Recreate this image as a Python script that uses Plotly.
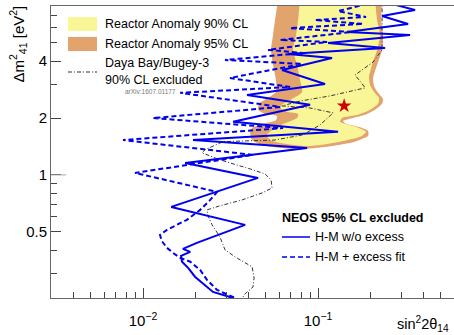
import math
import plotly.graph_objects as go

# ---------------- data ----------------
# Reactor anomaly 95% CL contour (sin^2 2theta_14, dm^2_41 [eV^2])
ra95_x = [0.0591, 0.0568, 0.0553, 0.0539, 0.0553, 0.0575, 0.0575, 0.0518, 0.0460, 0.0454,
          0.0498, 0.0583, 0.0575, 0.0479, 0.0420, 0.0409, 0.0420, 0.0479, 0.0607, 0.0789,
          0.0961, 0.1171, 0.1627, 0.1931, 0.1931, 0.1738, 0.1427, 0.1389, 0.1693, 0.1905,
          0.2117, 0.2321, 0.2351, 0.2202, 0.2089, 0.2062, 0.2173, 0.2321, 0.2351, 0.2291, 0.2321]
ra95_y = [8.5, 6.61, 5.51, 4.59, 3.82, 3.18, 2.75, 2.56, 2.38, 2.21,
          2.10, 2.05, 1.95, 1.86, 1.77, 1.67, 1.53, 1.44, 1.39, 1.37,
          1.39, 1.42, 1.50, 1.61, 1.71, 1.79, 1.88, 1.93, 2.03, 2.10,
          2.21, 2.38, 2.52, 2.72, 2.96, 3.26, 3.82, 4.59, 5.51, 6.61, 8.5]

# Reactor anomaly 90% CL contour
ra90_x = [0.0789, 0.0769, 0.0749, 0.0720, 0.0759, 0.0789, 0.0810, 0.0692, 0.0623, 0.0615,
          0.0674, 0.0769, 0.0759, 0.0631, 0.0546, 0.0511, 0.0532, 0.0648, 0.0843, 0.1027,
          0.1335, 0.1738, 0.1880, 0.1671, 0.1335, 0.1371, 0.1693, 0.1982, 0.2202, 0.2231,
          0.2089, 0.1982, 0.1956, 0.2035, 0.2173, 0.2261, 0.2173, 0.2117]
ra90_y = [8.5, 6.61, 5.51, 4.59, 3.82, 3.18, 2.75, 2.49, 2.35, 2.24,
          2.15, 2.10, 2.00, 1.86, 1.73, 1.63, 1.53, 1.46, 1.42, 1.44,
          1.50, 1.59, 1.69, 1.79, 1.91, 2.00, 2.08, 2.21, 2.38, 2.56,
          2.75, 2.99, 3.30, 3.82, 4.59, 5.51, 6.61, 8.5]

# Daya Bay / Bugey-3 90% CL exclusion
db_x = [0.2321, 0.2321, 0.2062, 0.1627, 0.1860, 0.1171, 0.0789, 0.0623, 0.0900, 0.1220,
        0.1027, 0.0820, 0.0568, 0.0409, 0.0287, 0.0226, 0.0217, 0.0258, 0.0302, 0.0409,
        0.0498, 0.0539, 0.0546, 0.0479, 0.0368, 0.0275, 0.0232, 0.0235, 0.0248, 0.0275,
        0.0294, 0.0336, 0.0420, 0.0431, 0.0425, 0.0383, 0.0349]
db_y = [8.5, 4.59, 3.96, 3.38, 2.89, 2.62, 2.46, 2.32, 2.26, 2.13,
        1.84, 1.63, 1.53, 1.51, 1.50, 1.36, 1.31, 1.23, 1.17, 1.076,
        1.012, 0.941, 0.853, 0.803, 0.737, 0.686, 0.653, 0.607, 0.544, 0.470,
        0.401, 0.368, 0.326, 0.285, 0.255, 0.235, 0.205]

# NEOS 95% CL excluded, H-M w/o excess (solid)
neos_wo_x = [0.2415, 0.3583, 0.2321, 0.3268, 0.1464, 0.3354, 0.1141, 0.2415, 0.0674, 0.1202,
             0.0623, 0.1096, 0.0393, 0.0900, 0.0327, 0.1301, 0.0193, 0.0865, 0.0174, 0.0454,
             0.0145, 0.0383, 0.0203, 0.0169, 0.0186, 0.0165, 0.0167, 0.0181, 0.0198, 0.0251,
             0.0327, 0.0358]
neos_wo_y = [8.23, 7.46, 6.94, 6.30, 5.71, 5.51, 4.99, 4.70, 4.37, 4.16,
             3.59, 3.03, 2.65, 2.35, 1.91, 1.69, 1.53, 1.39, 1.157, 0.964,
             0.677, 0.544, 0.437, 0.406, 0.391, 0.373, 0.347, 0.322, 0.289, 0.240,
             0.223, 0.205]

# NEOS 95% CL excluded, H-M + excess fit (dashed)
neos_fit_x = [0.2117, 0.1301, 0.1880, 0.0961, 0.1807, 0.0692, 0.1564, 0.0607, 0.1126, 0.0518,
              0.0821, 0.0294, 0.0810, 0.0314, 0.0692, 0.0163, 0.0607, 0.0114, 0.0631, 0.00769,
              0.0425, 0.0090, 0.0265, 0.0242, 0.0212, 0.0178, 0.0156, 0.0137, 0.0125, 0.0128,
              0.0137, 0.0148, 0.0163, 0.0186, 0.0212, 0.0232, 0.0265, 0.0336, 0.0368]
neos_fit_y = [8.23, 7.37, 6.86, 6.61, 6.30, 5.99, 5.71, 5.18, 5.06, 4.59,
              4.42, 4.06, 3.87, 3.26, 2.92, 2.72, 2.29, 2.00, 1.77, 1.53,
              1.276, 1.025, 0.813, 0.737, 0.653, 0.578, 0.544, 0.512, 0.481, 0.447,
              0.411, 0.387, 0.364, 0.347, 0.314, 0.278, 0.246, 0.223, 0.205]

# Reactor anomaly best fit point
bestfit_x = [0.141]
bestfit_y = [2.32]

x_major = [0.01, 0.1]
x_major_text = ["10<sup>\u22122</sup>", "10<sup>\u22121</sup>"]
x_minor = [0.004, 0.005, 0.006, 0.007, 0.008, 0.009,
           0.02, 0.03, 0.04, 0.05, 0.06, 0.07, 0.08, 0.09,
           0.2, 0.3, 0.4, 0.5]
y_major = [0.5, 1, 2, 4]
y_major_text = ["0.5", "1", "2", "4"]
y_minor = [0.3, 0.4, 0.6, 0.7, 0.8, 0.9, 3, 5, 6, 7]

x_range = [0.00298, 0.598]
y_range = [0.223, 7.84]

# ---------------- styling ----------------
FONT = "Liberation Sans, Arial, Helvetica, sans-serif"
YELLOW = "#f8f697"
ORANGE = "#e3a36c"
BLUE = "#0000ee"
DB_COL = "#333333"

W, H = 454, 335
L, R, T, B = 51, 0, 6, 37
PW, PH = W - L - R, H - T - B


def px(xp):
    return (xp - L) / PW


def py(yp):
    return (H - B - yp) / PH


fig = go.Figure()
fig.add_trace(go.Scatter(x=ra95_x, y=ra95_y, mode="lines", fill="toself",
                         fillcolor=ORANGE, line=dict(width=0, color=ORANGE, shape="spline", smoothing=0.6),
                         hoverinfo="skip", showlegend=False))
fig.add_trace(go.Scatter(x=ra90_x, y=ra90_y, mode="lines", fill="toself",
                         fillcolor=YELLOW, line=dict(width=0, color=YELLOW, shape="spline", smoothing=0.6),
                         hoverinfo="skip", showlegend=False))
fig.add_trace(go.Scatter(x=db_x, y=db_y, mode="lines",
                         line=dict(color=DB_COL, width=1, dash="4px,2px,1px,2px"),
                         showlegend=False))
fig.add_trace(go.Scatter(x=neos_fit_x, y=neos_fit_y, mode="lines",
                         line=dict(color=BLUE, width=2, dash="5px,3px"),
                         showlegend=False))
fig.add_trace(go.Scatter(x=neos_wo_x, y=neos_wo_y, mode="lines",
                         line=dict(color=BLUE, width=2),
                         showlegend=False))
fig.add_trace(go.Scatter(x=bestfit_x, y=bestfit_y, mode="markers",
                         marker=dict(symbol="star", size=11, color="#d00000", line=dict(width=0)),
                         showlegend=False))

shapes = []
# legend swatches (top-left)
shapes.append(dict(type="rect", xref="paper", yref="paper", x0=px(68), x1=px(97), y0=py(31), y1=py(17),
                   fillcolor=YELLOW, line=dict(width=0)))
shapes.append(dict(type="rect", xref="paper", yref="paper", x0=px(68), x1=px(97), y0=py(51), y1=py(37),
                   fillcolor=ORANGE, line=dict(width=0)))
shapes.append(dict(type="line", xref="paper", yref="paper", x0=px(68), x1=px(97), y0=py(72), y1=py(72),
                   line=dict(color=DB_COL, width=1, dash="4px,2px,1px,2px")))
# NEOS legend samples
shapes.append(dict(type="line", xref="paper", yref="paper", x0=px(282), x1=px(310), y0=py(237), y1=py(237),
                   line=dict(color=BLUE, width=1.5)))
shapes.append(dict(type="line", xref="paper", yref="paper", x0=px(282), x1=px(310), y0=py(257), y1=py(257),
                   line=dict(color=BLUE, width=1.5, dash="5px,3px")))
# longer light tick at 1
shapes.append(dict(type="line", xref="paper", yref="y", x0=0, x1=px(66), y0=1, y1=1,
                   line=dict(color="#aaaaaa", width=1)))

ann = []


def text(xp, yp, s, size=12.5, color="black", **kw):
    ann.append(dict(x=px(xp), y=py(yp), xref="paper", yref="paper", text=s, showarrow=False,
                    xanchor=kw.pop("xanchor", "left"), yanchor=kw.pop("yanchor", "middle"),
                    font=dict(family=FONT, size=size, color=color), **kw))


text(103, 24, "Reactor Anomaly 90% CL")
text(103, 44, "Reactor Anomaly 95% CL")
text(103, 63, "Daya Bay/Bugey-3")
text(103, 80, "90% CL excluded")
text(123, 92, "arXiv:1607.01177", size=6.5, color="#777777")
text(280, 218, "<b>NEOS 95% CL excluded</b>", size=12.5)
text(313, 237, "H-M w/o excess", size=12.5)
text(313, 257, "H-M + excess fit", size=12.5)
text(395, 324, "sin<sup>2</sup>2\u03b8<sub>14</sub>", size=14.5, xanchor="left")
ann.append(dict(x=px(18), y=py(4), xref="paper", yref="paper",
                text="\u0394m<sup>2</sup><sub>41</sub> [eV<sup>2</sup>]", showarrow=False,
                textangle=-90, xanchor="center", yanchor="top",
                font=dict(family=FONT, size=15, color="black")))

fig.update_layout(
    width=W, height=H, margin=dict(l=L, r=R, t=T, b=B),
    paper_bgcolor="white", plot_bgcolor="white",
    shapes=shapes, annotations=ann, showlegend=False,
    xaxis=dict(type="log", range=[math.log10(x_range[0]), math.log10(x_range[1])],
               tickmode="array", tickvals=x_major, ticktext=x_major_text,
               ticks="inside", ticklen=10, tickwidth=1, tickcolor="#444444",
               minor=dict(tickmode="array", tickvals=x_minor, ticks="inside", ticklen=6,
                          tickwidth=1, tickcolor="#444444"),
               showline=True, linecolor="#666666", linewidth=1, mirror=True,
               showgrid=False, zeroline=False, ticklabelstandoff=9,
               tickfont=dict(family=FONT, size=15, color="black")),
    yaxis=dict(type="log", range=[math.log10(y_range[0]), math.log10(y_range[1])],
               tickmode="array", tickvals=y_major, ticktext=y_major_text,
               ticks="inside", ticklen=10, tickwidth=1, tickcolor="#444444",
               minor=dict(tickmode="array", tickvals=y_minor, ticks="inside", ticklen=6,
                          tickwidth=1, tickcolor="#444444"),
               showline=True, linecolor="#666666", linewidth=1,
               showgrid=False, zeroline=False,
               tickfont=dict(family=FONT, size=15, color="black")),
)

fig.write_html("out.html", config={"displayModeBar": False},
               post_script="document.body.style.margin='0px';document.body.style.overflow='hidden';")
